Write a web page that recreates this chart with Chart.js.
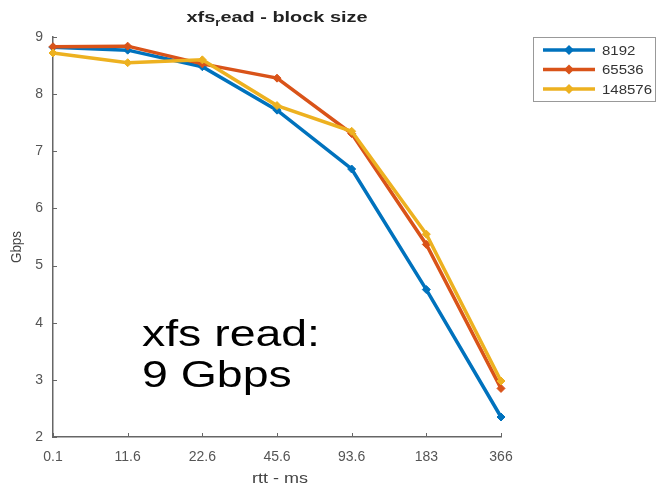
<!DOCTYPE html>
<html>
<head>
<meta charset="utf-8">
<script src="https://cdn.jsdelivr.net/npm/chart.js@4"></script>
<style>
  html, body { margin: 0; padding: 0; background: #fff; }
  #wrap { width: 656px; height: 486px; position: relative; }
</style>
</head>
<body>
<div id="wrap"><canvas id="c" width="656" height="486"></canvas></div>
<script>
// ---- data ----
const categories = ['0.1', '11.6', '22.6', '45.6', '93.6', '183', '366'];
const seriesNames = ['8192', '65536', '148576'];
const values8192   = [8.82, 8.77, 8.48, 7.72, 6.69, 4.58, 2.35];
const values65536  = [8.83, 8.84, 8.53, 8.28, 7.31, 5.37, 2.85];
const values148576 = [8.72, 8.55, 8.60, 7.80, 7.35, 5.55, 2.98];
const yTicks = [2, 3, 4, 5, 6, 7, 8, 9];
const titleParts = ['xfs', 'r', 'ead - block size'];
const xTitle = 'rtt - ms';
const yTitle = 'Gbps';
const noteLines = ['xfs read:', '9 Gbps'];

const colors = ['#0072BD', '#D95319', '#EDB120'];
const FONT = '"Liberation Sans", Arial, Helvetica, sans-serif';

function sText(ctx, text, x, y, font, color, align, targetW, sxFixed) {
  ctx.save();
  ctx.font = font;
  ctx.fillStyle = color;
  ctx.textBaseline = 'alphabetic';
  ctx.textAlign = 'left';
  const w0 = ctx.measureText(text).width;
  const sx = sxFixed || (targetW ? targetW / w0 : 1);
  const w = w0 * sx;
  let x0 = x;
  if (align === 'center') x0 = x - w / 2;
  else if (align === 'right') x0 = x - w;
  ctx.translate(x0, y);
  ctx.scale(sx, 1);
  ctx.fillText(text, 0, 0);
  ctx.restore();
  return w;
}

const decor = {
  id: 'decor',
  afterDraw(chart) {
    const ctx = chart.ctx;
    const ca = chart.chartArea;
    const xs = chart.scales.x, ys = chart.scales.y;
    // inward ticks
    ctx.save();
    ctx.strokeStyle = '#666';
    ctx.lineWidth = 1;
    xs.ticks.forEach((t, i) => {
      const px = Math.round(xs.getPixelForTick(i)) + 0.5;
      ctx.beginPath(); ctx.moveTo(px, ca.bottom); ctx.lineTo(px, ca.bottom - 4); ctx.stroke();
    });
    ys.ticks.forEach((t, i) => {
      const py = Math.round(ys.getPixelForTick(i)) + 0.5;
      ctx.beginPath(); ctx.moveTo(ca.left, py); ctx.lineTo(ca.left + 4, py); ctx.stroke();
    });
    ctx.restore();

    // title with subscript r
    const cx = (ca.left + ca.right) / 2;
    const tf = 'bold 15px ' + FONT;
    const sf = 'bold 10px ' + FONT;
    ctx.save();
    ctx.font = tf;
    const w1 = ctx.measureText(titleParts[0]).width;
    const w3 = ctx.measureText(titleParts[2]).width;
    ctx.font = sf;
    const w2 = ctx.measureText(titleParts[1]).width;
    ctx.restore();
    const sx = 181 / (w1 + w2 + w3);
    let tx = cx - 181 / 2;
    const tb = 22;
    tx += sText(ctx, titleParts[0], tx, tb, tf, '#222', 'left', 0, sx);
    tx += sText(ctx, titleParts[1], tx, tb + 4, sf, '#222', 'left', 0, sx);
    sText(ctx, titleParts[2], tx, tb, tf, '#222', 'left', 0, sx);

    // axis titles
    sText(ctx, xTitle, cx + 3, 483, '14px ' + FONT, '#444', 'center', 56);
    ctx.save();
    ctx.translate(21, 247);
    ctx.rotate(-Math.PI / 2);
    sText(ctx, yTitle, 0, 0, '14px ' + FONT, '#444', 'center', 32);
    ctx.restore();

    // legend
    ctx.save();
    ctx.strokeStyle = '#999';
    ctx.lineWidth = 1;
    ctx.fillStyle = '#fff';
    ctx.fillRect(533.5, 37.5, 122, 64);
    ctx.strokeRect(533.5, 37.5, 122, 64);
    chart.data.datasets.forEach((ds, i) => {
      const y = 50 + i * 19.5;
      ctx.strokeStyle = ds.borderColor;
      ctx.lineWidth = 3.5;
      ctx.beginPath(); ctx.moveTo(543, y); ctx.lineTo(595, y); ctx.stroke();
      ctx.fillStyle = ds.borderColor;
      ctx.beginPath();
      ctx.moveTo(569, y - 5); ctx.lineTo(574, y); ctx.lineTo(569, y + 5); ctx.lineTo(564, y); ctx.closePath();
      ctx.fill();
      sText(ctx, ds.label, 602, y + 4.5, '12px ' + FONT, '#333', 'left', 0, 1.25);
    });
    ctx.restore();

    // annotation
    const nf = '37px ' + FONT;
    ctx.save();
    ctx.font = nf;
    const nsx = 178 / ctx.measureText(noteLines[0]).width;
    ctx.restore();
    sText(ctx, noteLines[0], 142, 346, nf, '#000', 'left', 0, nsx);
    sText(ctx, noteLines[1], 142, 387, nf, '#000', 'left', 0, nsx);
  }
};

const allValues = [values8192, values65536, values148576];
const datasets = allValues.map((vals, i) => ({
  label: seriesNames[i],
  data: vals,
  borderColor: colors[i],
  backgroundColor: colors[i],
  borderWidth: 3.5,
  pointStyle: 'rectRot',
  pointRadius: 4,
  pointBorderWidth: 1,
  pointBackgroundColor: colors[i],
  pointBorderColor: colors[i],
  tension: 0,
  order: 3 - i
}));

new Chart(document.getElementById('c'), {
  type: 'line',
  data: { labels: categories, datasets },
  options: {
    responsive: false,
    animation: false,
    devicePixelRatio: 1,
    layout: { padding: { left: 0, top: 37, right: 155, bottom: 0 } },
    plugins: { legend: { display: false }, title: { display: false }, tooltip: { enabled: false } },
    scales: {
      x: {
        type: 'category',
        offset: false,
        grid: { display: false, drawTicks: false },
        border: { display: true, color: '#666', width: 1.5 },
        ticks: { color: '#555', font: { family: FONT, size: 14 }, padding: 12, maxRotation: 0, autoSkip: false },
        afterFit(scale) { scale.height = 49; }
      },
      y: {
        min: 2, max: 9,
        grid: { display: false, drawTicks: false },
        border: { display: true, color: '#666', width: 1.5 },
        afterBuildTicks(scale) { scale.ticks = yTicks.map(v => ({ value: v })); },
        ticks: { color: '#555', font: { family: FONT, size: 14 }, padding: 10 },
        afterFit(scale) { scale.width = 53; }
      }
    }
  },
  plugins: [decor]
});
</script>
</body>
</html>
